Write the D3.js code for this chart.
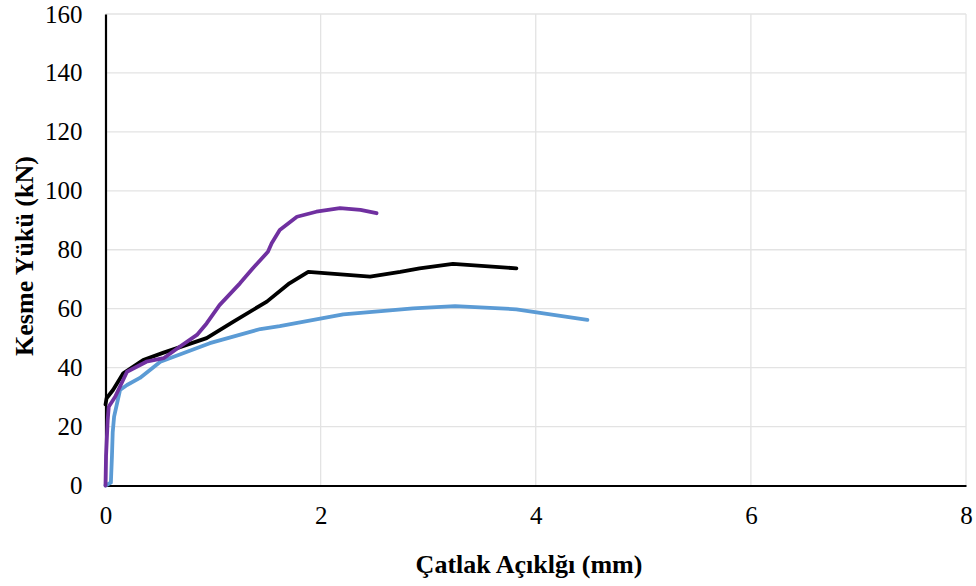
<!DOCTYPE html>
<html>
<head>
<meta charset="utf-8">
<script src="https://cdn.jsdelivr.net/npm/d3@7"></script>
<style>
  body { margin: 0; background: #fff; }
  svg { display: block; font-family: "Liberation Serif", "Times New Roman", serif; }
</style>
</head>
<body>
<div id="chart"></div>
<script>
// values: [crack width (mm), shear load (kN)]
var blueSeries = [[0, 0], [0.05, 1], [0.06, 10], [0.067, 18], [0.08, 23.4], [0.135, 32.4], [0.2, 34.1],
  [0.32, 36.5], [0.51, 42], [0.97, 48.3], [1.44, 53.1], [1.62, 54.1], [2.21, 58.1], [2.86, 60.1],
  [3.25, 60.9], [3.82, 59.8], [4.48, 56.2]];
var blackSeries = [[0, 27.5], [0.01, 29.6], [0.07, 32.4], [0.165, 38.1], [0.35, 42.6], [0.54, 45.1],
  [0.94, 50], [1.19, 55.6], [1.5, 62.4], [1.71, 68.6], [1.885, 72.5], [2.46, 70.9], [2.74, 72.5],
  [2.92, 73.7], [3.23, 75.2], [3.82, 73.7]];
var purpleSeries = [[0, 0], [0.005, 10], [0.02, 22], [0.03, 26.7], [0.09, 30.1], [0.2, 38.6], [0.38, 42],
  [0.54, 43.2], [0.69, 47.1], [0.85, 51.1], [0.94, 55], [1.06, 61.2], [1.25, 68.6], [1.37, 73.7],
  [1.51, 79.3], [1.545, 82.2], [1.62, 86.7], [1.78, 91.2], [1.96, 92.9], [2.18, 94.1], [2.37, 93.5],
  [2.52, 92.4]];
var seriesColors = ["#5b9bd5", "#000000", "#7030a0"];
var xTicks = [0, 2, 4, 6, 8];
var yTicks = [0, 20, 40, 60, 80, 100, 120, 140, 160];
var xTitle = "Çatlak Açıklğı (mm)";
var yTitle = "Kesme Yükü (kN)";

var width = 976, height = 586;
var margin = {left: 105.5, right: 10, top: 14, bottom: 100.5};

var x = d3.scaleLinear().domain([0, 8]).range([margin.left, width - margin.right]);
var y = d3.scaleLinear().domain([0, 160]).range([height - margin.bottom, margin.top]);

var svg = d3.select("#chart").append("svg")
  .attr("width", width)
  .attr("height", height);

// grid
var gGrid = svg.append("g").attr("stroke", "#e3e3e3").attr("stroke-width", 1.3);
gGrid.selectAll(".gy").data(yTicks.slice(1)).join("line")
  .attr("x1", x(0)).attr("x2", x(8))
  .attr("y1", d => y(d)).attr("y2", d => y(d));
gGrid.selectAll(".gx").data(xTicks.slice(1)).join("line")
  .attr("y1", y(0)).attr("y2", y(160))
  .attr("x1", d => x(d)).attr("x2", d => x(d));

// axes
var gx = svg.append("g").attr("transform", `translate(0,${y(0)})`)
  .call(d3.axisBottom(x).tickValues(xTicks).tickSize(0).tickPadding(21));
gx.select(".domain").attr("stroke", "#000").attr("stroke-width", 2.2);
gx.selectAll("text").attr("font-size", 25).attr("font-family", "Liberation Serif").attr("fill", "#000");

var gy = svg.append("g").attr("transform", `translate(${x(0)},0)`)
  .call(d3.axisLeft(y).tickValues(yTicks).tickSize(0).tickPadding(23));
gy.select(".domain").attr("stroke", "#000").attr("stroke-width", 2.2);
gy.selectAll("text").attr("font-size", 25).attr("font-family", "Liberation Serif").attr("fill", "#000");

// lines
var line = d3.line().x(d => x(d[0])).y(d => y(d[1])).curve(d3.curveLinear);
svg.append("g").selectAll("path")
  .data([blueSeries, blackSeries, purpleSeries])
  .join("path")
  .attr("d", line)
  .attr("fill", "none")
  .attr("stroke", (d, i) => seriesColors[i])
  .attr("stroke-width", 3.8)
  .attr("stroke-linejoin", "round")
  .attr("stroke-linecap", "round");

// titles
svg.append("text")
  .attr("x", 529).attr("y", 573)
  .attr("text-anchor", "middle")
  .attr("font-size", 26).attr("font-weight", "bold")
  .text(xTitle);
svg.append("text")
  .attr("transform", "translate(33,256) rotate(-90)")
  .attr("text-anchor", "middle")
  .attr("font-size", 26).attr("font-weight", "bold")
  .text(yTitle);
</script>
</body>
</html>
